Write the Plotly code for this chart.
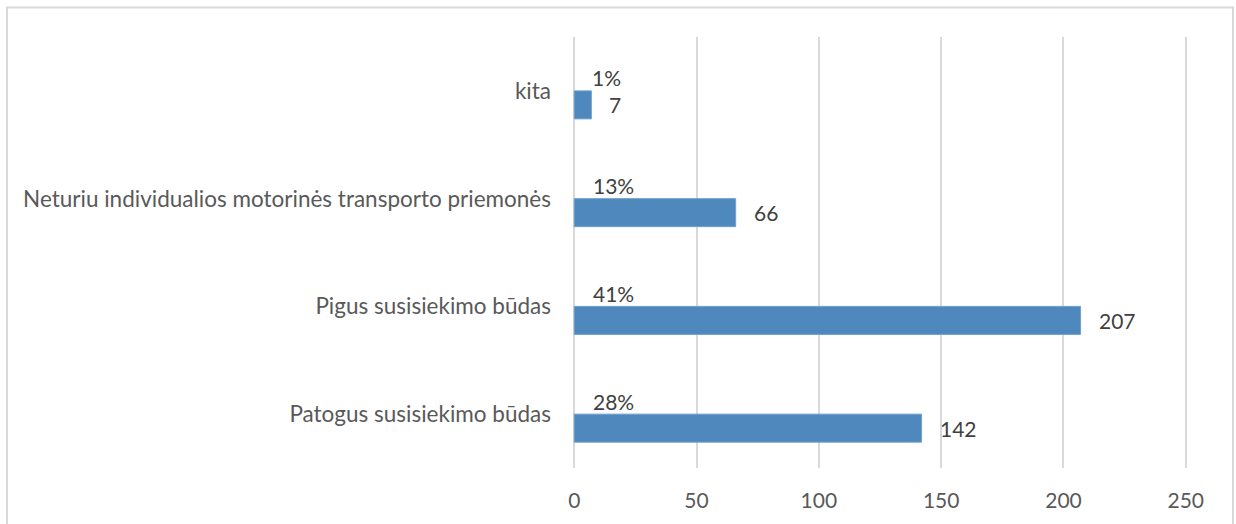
import plotly.graph_objects as go

# Survey answers (bottom to top on the chart)
categories = [
    "Patogus susisiekimo būdas",
    "Pigus susisiekimo būdas",
    "Neturiu individualios motorinės transporto priemonės",
    "kita",
]
counts = [142, 207, 66, 7]
shares = [0.28, 0.41, 0.13, 0.01]
x_ticks = [0, 50, 100, 150, 200, 250]

W, H = 1236, 524
L, R, T, B = 573, 49, 37, 56

BAR_BLUE = "#4f88bd"
GRID = "#d9d9d9"
FONT = "Lato"

fig = go.Figure()

# count bars, sitting just below each category centre
fig.add_trace(go.Bar(
    y=categories, x=counts, orientation="h",
    width=0.26, offset=-0.26,
    marker=dict(color=BAR_BLUE, line=dict(color="#6f9fcf", width=1)),
    hoverinfo="x+y", showlegend=False,
))
# share series, drawn just above centre (values are fractions, so bars are hair-thin)
fig.add_trace(go.Bar(
    y=categories, x=shares, orientation="h",
    width=0.26, offset=0.0,
    marker=dict(color="rgba(0,0,0,0)", line=dict(width=0)),
    hoverinfo="x+y", showlegend=False,
))

annotations = []
for cat, n, s in zip(categories, counts, shares):
    annotations.append(dict(
        x=n, y=cat, xref="x", yref="y", text=f"{n}",
        showarrow=False, xanchor="left", yanchor="middle",
        xshift=16, yshift=-14,
        font=dict(family=FONT, size=21, color="#404040"),
    ))
    annotations.append(dict(
        x=s, y=cat, xref="x", yref="y", text=f"{round(s * 100)}%",
        showarrow=False, xanchor="left", yanchor="middle",
        xshift=16, yshift=13,
        font=dict(family=FONT, size=21, color="#404040"),
    ))

plot_w = W - L - R
plot_h = H - T - B
# outer chart frame
frame = dict(
    type="rect", xref="paper", yref="paper",
    x0=(7 - L) / plot_w, x1=(1233 - L) / plot_w,
    y0=(-10 - B) / plot_h, y1=(H - 7.5 - B) / plot_h,
    line=dict(color=GRID, width=2), fillcolor="rgba(0,0,0,0)", layer="below",
)

fig.update_layout(
    width=W, height=H,
    margin=dict(l=L, r=R, t=T, b=B, pad=0),
    paper_bgcolor="white", plot_bgcolor="white",
    barmode="overlay",
    font=dict(family=FONT, size=21, color="#595959"),
    annotations=annotations,
    shapes=[frame],
    xaxis=dict(
        range=[-0.5, 250.5], tickvals=x_ticks, ticks="",
        showgrid=True, gridcolor=GRID, gridwidth=1.5,
        zeroline=False, showline=False,
        ticklabelstandoff=18,
        tickfont=dict(family=FONT, size=21, color="#595959"),
        fixedrange=True,
    ),
    yaxis=dict(
        categoryorder="array", categoryarray=categories,
        range=[-0.5, 3.5], ticks="", showgrid=False,
        zeroline=False, showline=False,
        ticklabelstandoff=21,
        tickfont=dict(family=FONT, size=22.5, color="#595959"),
        fixedrange=True,
    ),
)

fig.write_html("out.html")
